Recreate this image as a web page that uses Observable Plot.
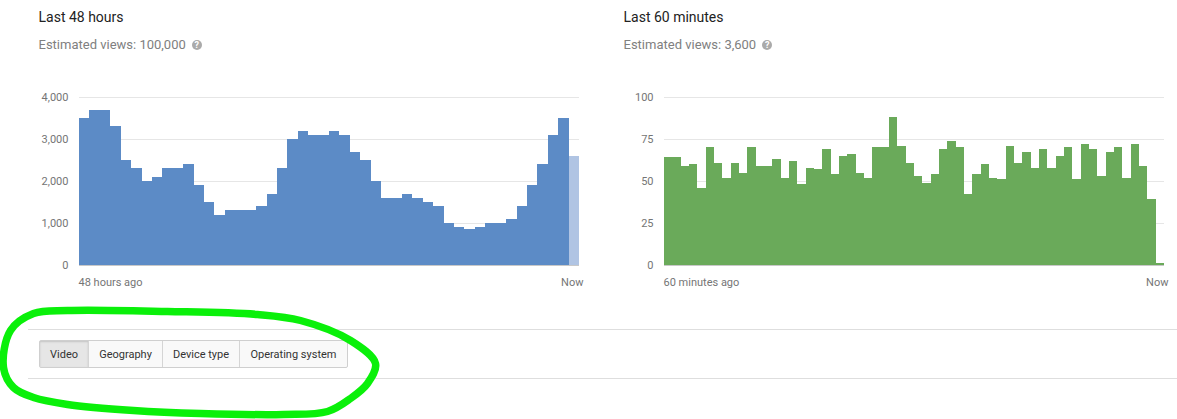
<!DOCTYPE html>
<html>
<head>
<meta charset="utf-8">
<script src="https://cdn.jsdelivr.net/npm/d3@7"></script>
<script src="https://cdn.jsdelivr.net/npm/@observablehq/plot@0.6"></script>
<style>
html,body{margin:0;padding:0;background:#fff;}
body{width:1177px;height:419px;position:relative;overflow:hidden;font-family:Roboto,sans-serif;}
.abs{position:absolute;white-space:nowrap;}
.title{font-size:14px;color:#222;line-height:18px;}
.sub{font-size:13px;color:#808080;line-height:18px;}
.help{display:inline-block;width:10px;height:10px;border-radius:50%;background:#aaa;color:#fff;font-size:9px;line-height:10px;text-align:center;font-weight:700;margin-left:6px;vertical-align:1px;}
.rule{height:1px;background:#dedede;left:28px;right:0;}
.tabs{left:39px;top:340px;height:28px;display:flex;box-sizing:border-box;border:1px solid #cfcfcf;border-radius:2px;background:#f9f9f9;}
.tabs div{box-sizing:border-box;height:26px;line-height:27px;text-align:center;font-size:11px;color:#333;border-left:1px solid #d5d5d5;}
.tabs div:first-child{border-left:0;background:#e6e6e6;box-shadow:inset 0 1px 2px rgba(0,0,0,.15);}
svg{position:absolute;}
</style>
</head>
<body>
<script>
const hours48 = [3500,3700,3700,3300,2500,2300,2000,2100,2300,2300,2400,1900,1500,1200,1300,1300,1300,1400,1700,2300,3000,3200,3100,3100,3200,3100,2700,2500,2000,1600,1600,1700,1600,1500,1400,1000,900,850,900,1000,1000,1100,1400,1900,2400,3100,3500,2600];
const minutes60 = [64,64,59,60,46,70,61,52,61,55,70,59,59,63,52,62,48,58,57,69,54,65,66,55,52,70,70,88,71,61,53,49,54,69,74,70,42,54,60,52,51,71,61,67,58,69,58,65,70,51,72,69,53,67,70,52,72,59,39,1];
const hoursTicks = [0,1000,2000,3000,4000];
const minutesTicks = [0,25,50,75,100];
const tabLabels = ["Video","Geography","Device type","Operating system"];
const tabWidths = [48,74,77,108];
const strokeX = [33,67,167,257,300,350,375,367,350,327,283,200,133,67,33,13,3,10];
const strokeY = [313,310,311,314,320,340,363,383,398,411,414,413,410,404,397,387,367,330];

function barChart({values, ticks, yMax, fill, pale, left, width, marginLeft, marginRight, startLabel}) {
  const rows = values.map((v,i)=>({i, v, pale: pale && i===values.length-1}));
  const n = values.length;
  const plot = Plot.plot({
    width, height: 205,
    marginLeft, marginRight, marginTop: 17, marginBottom: 20,
    style: {background:"transparent", fontFamily:"Roboto,sans-serif", fontSize:"11px", overflow:"visible"},
    x: {type:"linear", domain:[0,n], axis:null},
    y: {domain:[0,yMax], ticks, axis:null},
    marks: [
      Plot.ruleY(ticks, {stroke:"#e6e6e6", strokeWidth:1, strokeOpacity:1}),
      Plot.rect(rows, {x1:"i", x2:d=>d.i+1, y1:0, y2:"v", fill:d=>d.pale?"#b0c4e3":fill, inset:0, shapeRendering:"crispEdges"}),
      Plot.ruleY([0], {stroke:"#c8c8c8", strokeWidth:1, strokeOpacity:1}),
      Plot.axisY({ticks, tickSize:0, tickPadding:11, tickFormat:d=>d3.format(",")(d), color:"#757575", fontSize:11, label:null}),
      Plot.text([startLabel], {x:0, y:0, dy:17, dx:-1, textAnchor:"start", fill:"#757575", fontSize:11}),
      Plot.text(["Now"], {x:n, y:0, dy:17, dx:4, textAnchor:"end", fill:"#757575", fontSize:11})
    ]
  });
  plot.style.left = left+"px";
  plot.style.top = "80px";
  document.body.appendChild(plot);
}

function addText(cls, x, y, html){
  const d = document.createElement("div");
  d.className = "abs "+cls;
  d.style.left = x+"px"; d.style.top = y+"px";
  d.innerHTML = html;
  document.body.appendChild(d);
}
addText("title",38.5,8,"Last 48 hours");
addText("sub",38.5,36,'Estimated views: 100,000<span class="help">?</span>');
addText("title",623.5,8,"Last 60 minutes");
addText("sub",623.5,36,'Estimated views: 3,600<span class="help">?</span>');

barChart({values:hours48, ticks:hoursTicks, yMax:4000, fill:"#5c8bc6", pale:true, left:0, width:590, marginLeft:79, marginRight:11, startLabel:"48 hours ago"});
barChart({values:minutes60, ticks:minutesTicks, yMax:100, fill:"#6aaa5a", pale:false, left:590, width:587, marginLeft:74, marginRight:13, startLabel:"60 minutes ago"});

const r1=document.createElement("div"); r1.className="abs rule"; r1.style.top="329px"; document.body.appendChild(r1);
const r2=document.createElement("div"); r2.className="abs rule"; r2.style.top="378px"; document.body.appendChild(r2);
const tabs=document.createElement("div"); tabs.className="abs tabs";
tabLabels.forEach((t,i)=>{const c=document.createElement("div"); c.textContent=t; c.style.width=tabWidths[i]+"px"; tabs.appendChild(c);});
document.body.appendChild(tabs);

const overlay = Plot.plot({
  width:1177, height:419, margin:0,
  style:{background:"transparent", pointerEvents:"none"},
  x:{type:"linear", domain:[0,1177], range:[0,1177], axis:null},
  y:{type:"linear", domain:[0,419], range:[0,419], axis:null},
  marks:[Plot.line(strokeX.map((x,i)=>({x, y:strokeY[i]})), {x:"x", y:"y", curve:"catmull-rom-closed", stroke:"#0af00a", strokeWidth:7.5, strokeLinejoin:"round"})]
});
overlay.style.left="0"; overlay.style.top="0";
document.body.appendChild(overlay);
</script>
</body>
</html>
